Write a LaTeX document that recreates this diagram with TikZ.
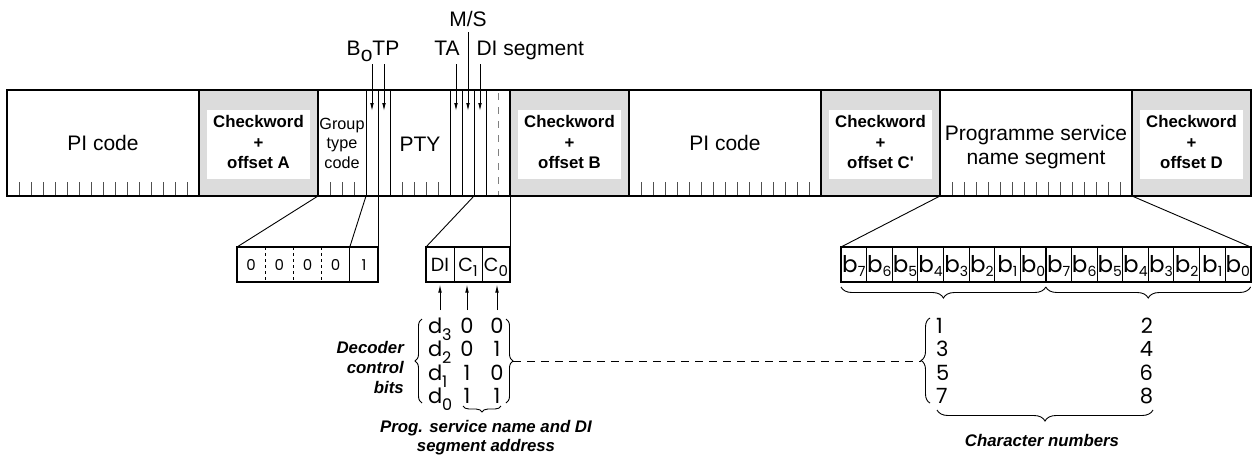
\documentclass[tikz,border=0pt]{standalone}
\usepackage{fontspec}
\setmainfont{Liberation Sans}
\newfontfamily\geo{Poppins}
\usetikzlibrary{arrows.meta,decorations.pathreplacing}
\definecolor{cwgray}{RGB}{220,220,220}
\definecolor{tickgray}{RGB}{80,80,80}
\newcommand{\fsz}[1]{\fontsize{#1}{#1}\selectfont}
\newcommand{\lowsub}[3]{\raisebox{-#1pt}{\fsz{#2}#3}}
\tikzset{
  thickline/.style={line width=1.8pt},
  thinline/.style={line width=0.9pt},
  midline/.style={line width=1.4pt},
  tickline/.style={line width=0.9pt, draw=tickgray},
  lbl/.style={inner sep=0pt, outer sep=0pt, font=\fsz{21}},
  cwtext/.style={inner sep=0pt, align=center, font=\bfseries\fontsize{16.8}{20.3}\selectfont},
  arr/.style={thinline, -{Latex[length=8pt,width=3.6pt]}},
  boxnode/.style={draw, thickline, inner sep=0pt, outer sep=0pt, minimum height=35pt},
  geolbl/.style={inner sep=0pt, outer sep=0pt, anchor=base},
  brc/.style={thinline, decorate},
  itlbl/.style={inner sep=0pt, font=\bfseries\itshape\fontsize{16.8}{20}\selectfont}
}
\begin{document}
\begin{tikzpicture}[x=1pt,y=-1pt]
\useasboundingbox (0,0) rectangle (1255,456);
% checkword areas
\foreach \a/\b in {199/318,510/629,821/940,1132/1251}{
  \fill[cwgray] (\a,90) rectangle (\b,196);
  \fill[white] (\a+8,110) rectangle (\b-8,179);
}
% ticks in the information words
\foreach \s in {7,629,940}{
  \foreach \k in {1,...,15}{
    \draw[tickline] (\s+12*\k,182) -- (\s+12*\k,196);
  }
}
\foreach \k in {1,2,3,7,8,9,10}{
  \draw[tickline] (318+12*\k,182) -- (318+12*\k,196);
}
\foreach \k in {4,5,6,11,12,13,14}{
  \draw[thinline] (318+12*\k,90) -- (318+12*\k,196);
}
\draw[thinline, draw=gray, dash pattern=on 7pt off 7pt] (498,93) -- (498,196);
% outline
\draw[thickline] (7,90) rectangle (1251,196);
\foreach \x in {199,318,510,629,821,940,1132}{
  \draw[thickline] (\x,90) -- (\x,196);
}
% texts in band
\node[lbl] (pi1) at (103,143) {PI code};
\node[cwtext] (cwa) at (258.5,142) {Checkword\\+\\offset A};
\node[inner sep=0pt, align=center, font=\fontsize{16.2}{19.5}\selectfont] (gtc) at (342,143) {Group\\type\\code};
\node[lbl] (pty) at (420,144) {PTY};
\node[cwtext] (cwb) at (569.5,142) {Checkword\\+\\offset B};
\node[lbl] (pi2) at (725,143) {PI code};
\node[cwtext] (cwc) at (880.5,142) {Checkword\\+\\offset C\textquotesingle};
\node[inner sep=0pt, align=center, font=\fontsize{21}{24.3}\selectfont] (psn) at (1036,147) {Programme service\\name segment};
\node[cwtext] (cwd) at (1191.5,142) {Checkword\\+\\offset D};
% top labels and arrows
\node[lbl, anchor=base] (ms) at (468,26) {M/S};
\node[lbl, anchor=base] (ta) at (447,55) {TA};
\node[lbl, anchor=base west] (dis) at (476.5,55) {DI segment};
\node[lbl, anchor=base] (botp) at (373,55) {B\raisebox{-6.5pt}{o}TP};
\coordinate (b0s) at (372,64);  \coordinate (b0e) at (372,111);
\coordinate (tps) at (384,64);  \coordinate (tpe) at (384,111);
\coordinate (tas) at (456,64);  \coordinate (tae) at (456,111);
\coordinate (mss) at (468,32);  \coordinate (mse) at (468,111);
\coordinate (dss) at (480,64);  \coordinate (dse) at (480,111);
\draw[arr] (b0s) -- (b0e);
\draw[arr] (tps) -- (tpe);
\draw[arr] (tas) -- (tae);
\draw[arr] (mss) -- (mse);
\draw[arr] (dss) -- (dse);
% group type box
\node[boxnode, minimum width=141pt] (gtbox) at (307.5,264.5) {};
\foreach \k in {1,2,3}{
  \draw[thinline, dash pattern=on 3pt off 3pt] (237+28.2*\k,247) -- (237+28.2*\k,282);
}
\draw[thinline] (349.8,247) -- (349.8,282);
\foreach \v/\k in {0/0,0/1,0/2,0/3,1/4}{
  \node[geolbl, font=\geo\fsz{15}] (gd\k) at (251.1+28.2*\k,270) {\v};
}
\coordinate (gA) at (318,196);
\coordinate (gB) at (366,196);
\coordinate (gC) at (378,196);
\coordinate (gBb) at (349.8,247);
\draw[thinline] (gA) -- (gtbox.north west);
\draw[thinline] (gB) -- (gBb);
\draw[thinline] (gC) -- (gtbox.north east);
% DI box
\node[boxnode, minimum width=84pt] (dibox) at (468,264.5) {};
\draw[thinline] (454,247) -- (454,282);
\draw[thinline] (482,247) -- (482,282);
\node[geolbl, font=\geo\fsz{19}] (tdi) at (440,271.5) {DI};
\node[geolbl, font=\geo\fsz{19}] (tc1) at (468,271.5) {C\lowsub{5}{15}{1}};
\node[geolbl, font=\geo\fsz{19}] (tc0) at (496,271.5) {C\lowsub{5}{15}{0}};
\coordinate (dA) at (474,196);
\coordinate (dB) at (510,196);
\draw[thinline] (dA) -- (dibox.north west);
\draw[thinline] (dB) -- (dibox.north east);
\coordinate (u1s) at (440,310); \coordinate (u1e) at (440,284.5);
\coordinate (u2s) at (467,310); \coordinate (u2e) at (467,284.5);
\coordinate (u3s) at (497,310); \coordinate (u3e) at (497,284.5);
\draw[arr] (u1s) -- (u1e);
\draw[arr] (u2s) -- (u2e);
\draw[arr] (u3s) -- (u3e);
% decoder matrix
\foreach \r/\y/\p/\q in {3/333/0/0,2/356.5/0/1,1/380/1/0,0/403.5/1/1}{
  \node[geolbl, anchor=base west, font=\geo\fsz{21}] (dd\r) at (428,\y) {d\lowsub{7}{16}{\r}};
  \node[geolbl, font=\geo\fsz{21}] (dp\r) at (467,\y) {\p};
  \node[geolbl, font=\geo\fsz{21}] (dq\r) at (497,\y) {\q};
}
\draw[brc, decoration={brace, amplitude=7pt}] (422,403) -- (422,319);
\draw[brc, decoration={brace, amplitude=7pt}] (506,319) -- (506,403);
\draw[brc, decoration={brace, amplitude=6pt}] (501,406) -- (463,406);
\node[itlbl, align=right, anchor=east] (dcb) at (404,367) {Decoder\\control\\bits};
\node[itlbl, align=center, font=\bfseries\itshape\fontsize{16.8}{19}\selectfont] (psa) at (486,438) {Prog. service name and DI\\segment address};
\coordinate (dl1) at (513,361);
\coordinate (dl2) at (921,361);
\draw[thinline, dash pattern=on 8pt off 6pt] (dl1) -- (dl2);
% byte box
\node[boxnode, minimum width=409.6pt] (bytebox) at (1045.8,264.5) {};
\foreach \k in {1,2,3,5,6,7,9,10,11,13,14,15}{
  \draw[thinline] (841+25.6*\k,247) -- (841+25.6*\k,282);
}
\draw[midline] (943.4,247) -- (943.4,282);
\draw[midline] (1148.2,247) -- (1148.2,282);
\draw[thickline] (1045.8,247) -- (1045.8,282);
\foreach \n [count=\i from 0] in {7,6,5,4,3,2,1,0,7,6,5,4,3,2,1,0}{
  \node[geolbl, font=\geo\fsz{23}] (bb\i) at (841+25.6*\i+12.8,272) {b\lowsub{4.5}{14}{\n}};
}
\coordinate (pA) at (940,196);
\coordinate (pB) at (1132,196);
\draw[thinline] (pA) -- (bytebox.north west);
\draw[thinline] (pB) -- (bytebox.north east);
\draw[brc, decoration={brace, amplitude=11pt}] (1045.8,287) -- (841,287);
\draw[brc, decoration={brace, amplitude=11pt}] (1250.6,287) -- (1045.8,287);
% character numbers
\foreach \a/\b/\y in {1/2/333,3/4/356.5,5/6/380,7/8/403.5}{
  \node[geolbl, anchor=base west, font=\geo\fsz{21}] (cl\a) at (936,\y) {\a};
  \node[geolbl, anchor=base east, font=\geo\fsz{21}] (cr\b) at (1153,\y) {\b};
}
\draw[brc, decoration={brace, amplitude=9pt}] (930,403) -- (930,318);
\draw[brc, decoration={brace, amplitude=11pt}] (1153,410) -- (937,410);
\node[itlbl] (chn) at (1042,440.5) {Character numbers};
\end{tikzpicture}
\end{document}
